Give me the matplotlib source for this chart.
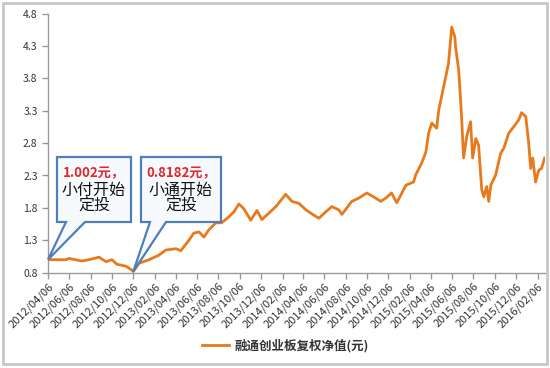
import matplotlib
matplotlib.use("Agg")
import matplotlib.pyplot as plt
import matplotlib.dates as mdates
from matplotlib.patches import Polygon, Rectangle
from matplotlib.transforms import IdentityTransform
import pandas as pd

plt.rcParams['font.family'] = ['Noto Sans CJK SC', 'DejaVu Sans']

# net value of the fund
dates = [
    "2012-04-06", "2012-05-27", "2012-06-05", "2012-07-12", "2012-08-01", "2012-08-30",
    "2012-09-19", "2012-10-06", "2012-10-20", "2012-11-15", "2012-11-29", "2012-12-06",
    "2012-12-22", "2013-01-20", "2013-02-17", "2013-03-09", "2013-04-07", "2013-04-21",
    "2013-05-14", "2013-05-28", "2013-06-12", "2013-06-26", "2013-07-10", "2013-07-30",
    "2013-08-16", "2013-09-05", "2013-09-20", "2013-10-04", "2013-10-18", "2013-11-07",
    "2013-11-25", "2013-12-09", "2013-12-29", "2014-01-18", "2014-02-15", "2014-03-05",
    "2014-03-25", "2014-04-14", "2014-05-06", "2014-05-21", "2014-06-10", "2014-06-27",
    "2014-07-17", "2014-07-26", "2014-08-23", "2014-09-12", "2014-10-05", "2014-10-25",
    "2014-11-14", "2014-11-28", "2014-12-15", "2014-12-30", "2015-01-25", "2015-02-16",
    "2015-02-22", "2015-03-11", "2015-03-23", "2015-03-31", "2015-04-09", "2015-04-23",
    "2015-04-29", "2015-05-13", "2015-05-27", "2015-06-05", "2015-06-14", "2015-06-16",
    "2015-06-25", "2015-07-01", "2015-07-04", "2015-07-09", "2015-07-18", "2015-07-29",
    "2015-08-04", "2015-08-13", "2015-08-21", "2015-08-30", "2015-09-05", "2015-09-13",
    "2015-09-19", "2015-09-25", "2015-10-09", "2015-10-23", "2015-11-01", "2015-11-15",
    "2015-11-29", "2015-12-14", "2015-12-22", "2016-01-03", "2016-01-11", "2016-01-17",
    "2016-01-23", "2016-01-31", "2016-02-09", "2016-02-17", "2016-02-26",
]
nav = [
    1.002, 1.00, 1.02, 0.98, 1.00, 1.04,
    0.97, 1.00, 0.93, 0.90, 0.85, 0.8182,
    0.945, 1.00, 1.07, 1.15, 1.17, 1.14,
    1.30, 1.41, 1.43, 1.35, 1.46, 1.57,
    1.57, 1.66, 1.74, 1.86, 1.79, 1.61,
    1.76, 1.62, 1.72, 1.82, 2.01, 1.90,
    1.87, 1.77, 1.69, 1.64, 1.74, 1.82,
    1.77, 1.70, 1.90, 1.95, 2.03, 1.97,
    1.90, 1.95, 2.03, 1.88, 2.15, 2.20,
    2.31, 2.49, 2.66, 2.95, 3.11, 3.03,
    3.31, 3.67, 4.03, 4.59, 4.44, 4.29,
    3.93, 3.42, 3.13, 2.57, 2.90, 3.13,
    2.57, 2.87, 2.77, 2.08, 1.97, 2.13,
    1.90, 2.15, 2.31, 2.64, 2.72, 2.95,
    3.05, 3.16, 3.27, 3.21, 2.82, 2.41,
    2.57, 2.20, 2.38, 2.41, 2.57,
]
y_ticks = [0.8, 1.3, 1.8, 2.3, 2.8, 3.3, 3.8, 4.3, 4.8]
tick_dates = pd.date_range("2012-04-01", "2016-02-01", freq="2MS") + pd.Timedelta(days=5)

# callout texts: (date of start, value, red line, black lines)
notes = [
    ("2012-04-06", 1.002, "1.002元，", ["小付开始", "定投"]),
    ("2012-12-06", 0.8182, "0.8182元，", ["小通开始", "定投"]),
]

series = pd.Series(nav, index=pd.to_datetime(dates))

W, H = 550, 368
fig = plt.figure(figsize=(W / 100, H / 100), dpi=100)
ax = fig.add_axes([48 / W, 1 - 272.7 / H, (545 - 48) / W, (272.7 - 13.5) / H])

line, = ax.plot(series.index, series.values, color="#e8791c", lw=2.0,
                label="融通创业板复权净值(元)", solid_joinstyle="round")

ax.set_ylim(0.8, 4.8)
ax.set_yticks(y_ticks)
ax.set_yticklabels([f"{v:.1f}" for v in y_ticks])
ax.set_xlim(pd.Timestamp("2012-04-06"), pd.Timestamp("2016-02-27"))
ax.set_xticks(tick_dates)
ax.set_xticklabels([d.strftime("%Y/%m/%d") for d in tick_dates],
                   rotation=45, ha="right", rotation_mode="anchor")

for s in ("top", "right"):
    ax.spines[s].set_visible(False)
for s in ("left", "bottom"):
    ax.spines[s].set_color("#9a9a9a")
    ax.spines[s].set_linewidth(1.0)
ax.tick_params(axis="both", colors="#9a9a9a", length=4, width=1.0,
               labelcolor="#333333", labelsize=7.5)
ax.tick_params(axis="x", labelsize=8, pad=2)

# callout boxes, drawn in figure pixels (y from top), tip taken from the data
boxes = [(57, 131, 157, 222, 66, 85), (141, 221, 157, 222, 150, 166)]
for (d, v, red, black), (x0, x1, y0, y1, t0, t1) in zip(notes, boxes):
    tx, ty = ax.transData.transform((mdates.date2num(pd.Timestamp(d)), v))
    pts = [(x0, H - y0), (x1, H - y0), (x1, H - y1), (t1, H - y1), (tx, ty),
           (t0, H - y1), (x0, H - y1)]
    fig.patches.append(Polygon(pts, closed=True, transform=IdentityTransform(),
                               facecolor="#f7fafd", edgecolor="#4f7fb8", lw=1.6,
                               joinstyle="miter", zorder=5))
    cx = (x0 + x1) / 2 / W
    fig.text(cx, 1 - 173 / H, red, color="#e3262d", fontsize=9.5,
             fontweight="bold", ha="center", va="center", zorder=6)
    for k, txt in enumerate(black):
        fig.text(cx, 1 - (190 + 16 * k) / H, txt, color="#111111", fontsize=11.5,
                 ha="center", va="center", zorder=6)

fig.legend(handles=[line], loc="center", bbox_to_anchor=(285 / W, 1 - 346 / H),
           frameon=False, handlelength=2.2, handletextpad=0.4,
           prop={"weight": "bold", "size": 9}, labelcolor="#333333")

# outer grey frame of the picture
fig.patches.append(Rectangle((3 / W, 4 / H), (W - 6) / W, (H - 7) / H,
                             transform=fig.transFigure, fill=False,
                             edgecolor="#c8c8c8", lw=2))

fig.savefig("out.png", dpi=100)
